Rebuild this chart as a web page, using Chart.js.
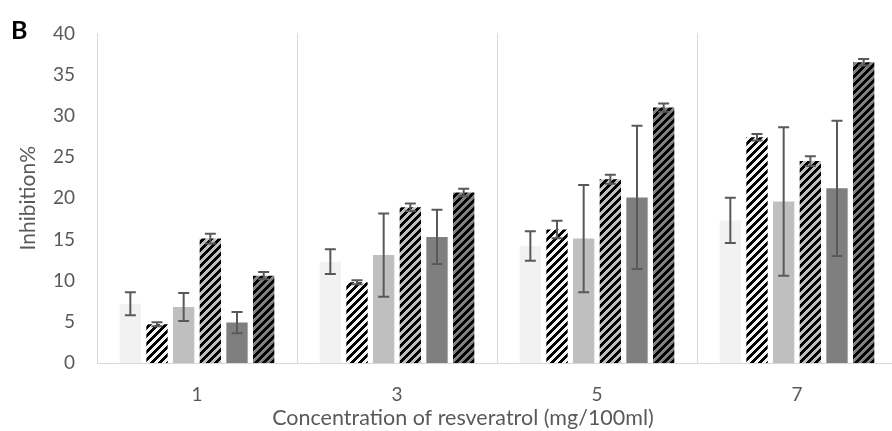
<!DOCTYPE html>
<html>
<head>
<meta charset="utf-8">
<script src="https://cdn.jsdelivr.net/npm/chart.js@4/dist/chart.umd.min.js"></script>
<style>
  html, body { margin: 0; padding: 0; background: #ffffff; overflow: hidden; }
  #wrap { width: 900px; height: 431px; }
</style>
</head>
<body>
<div id="wrap"><canvas id="c" width="900" height="431"></canvas></div>
<script>
// ---- data ----
const categories = ['1', '3', '5', '7'];
const yTicks = [0, 5, 10, 15, 20, 25, 30, 35, 40];
const s1 = [7.2, 12.3, 14.2, 17.3];
const s2 = [4.7, 9.8, 16.2, 27.4];
const s3 = [6.8, 13.1, 15.1, 19.6];
const s4 = [15.1, 18.9, 22.3, 24.5];
const s5 = [4.9, 15.3, 20.1, 21.2];
const s6 = [10.6, 20.7, 31.0, 36.5];
const e1 = [1.4, 1.5, 1.8, 2.75];
const e2 = [0.25, 0.25, 1.05, 0.4];
const e3 = [1.7, 5.05, 6.5, 9.0];
const e4 = [0.6, 0.45, 0.55, 0.6];
const e5 = [1.3, 3.3, 8.7, 8.2];
const e6 = [0.45, 0.45, 0.5, 0.4];
const xTitle = 'Concentration of resveratrol (mg/100ml)';
const yTitle = 'Inhibition%';
const panelLabel = 'B';

// ---- styles ----
const FONT = 'Lato, "Open Sans", "DejaVu Sans", sans-serif';
const TXT = '#595959';
function hatch(bg) {
  const c = document.createElement('canvas');
  c.width = 8; c.height = 8;
  const g = c.getContext('2d');
  g.fillStyle = bg; g.fillRect(0, 0, 8, 8);
  g.fillStyle = '#000000';
  for (let y = 0; y < 8; y++) for (let x = 0; x < 8; x++) {
    if ((x + y) % 8 < 4) g.fillRect(x, y, 1, 1);
  }
  return g.createPattern(c, 'repeat');
}
const fills = ['#f2f2f2', hatch('#f2f2f2'), '#bfbfbf', hatch('#bfbfbf'), '#7f7f7f', hatch('#7f7f7f')];
const values = [s1, s2, s3, s4, s5, s6];
const errors = [e1, e2, e3, e4, e5, e6];

const datasets = values.map((v, i) => ({
  label: 'Series ' + (i + 1),
  data: v,
  errors: errors[i],
  backgroundColor: fills[i],
  borderWidth: 0,
  barPercentage: 0.8,
  categoryPercentage: 0.8
}));

const errorBars = {
  id: 'errorBars',
  afterDatasetsDraw(chart) {
    const ctx = chart.ctx;
    const ys = chart.scales.y;
    ctx.save();
    ctx.strokeStyle = '#595959';
    ctx.lineWidth = 2;
    chart.data.datasets.forEach((ds, i) => {
      const meta = chart.getDatasetMeta(i);
      meta.data.forEach((bar, j) => {
        const v = ds.data[j], e = ds.errors[j];
        const yt = ys.getPixelForValue(v + e);
        const yb = ys.getPixelForValue(v - e);
        const x = bar.x, hw = 5.5;
        ctx.beginPath();
        ctx.moveTo(x, yt); ctx.lineTo(x, yb);
        ctx.moveTo(x - hw, yt); ctx.lineTo(x + hw, yt);
        ctx.moveTo(x - hw, yb); ctx.lineTo(x + hw, yb);
        ctx.stroke();
      });
    });
    ctx.restore();
  }
};

const extraText = {
  id: 'extraText',
  afterDraw(chart) {
    const ctx = chart.ctx;
    const a = chart.chartArea;
    ctx.save();
    ctx.fillStyle = '#000000';
    ctx.font = 'bold 25px ' + FONT;
    ctx.textAlign = 'left';
    ctx.textBaseline = 'middle';
    ctx.fillText(panelLabel, 11, 31);
    ctx.fillStyle = TXT;
    ctx.font = '21.5px ' + FONT;
    ctx.textAlign = 'center';
    ctx.fillText(xTitle, 463, a.bottom + 55);
    ctx.restore();
  }
};

new Chart(document.getElementById('c'), {
  type: 'bar',
  data: { labels: categories, datasets },
  options: {
    responsive: false,
    animation: false,
    layout: { padding: { top: 22, right: 3, bottom: 0, left: 0 } },
    plugins: { legend: { display: false }, tooltip: { enabled: false } },
    scales: {
      x: {
        grid: { display: true, offset: true, color: '#d9d9d9', lineWidth: 1, drawTicks: false },
        border: { display: true, color: '#d9d9d9', width: 1 },
        ticks: { color: TXT, font: { family: FONT, size: 19 }, padding: 20 },
        afterFit(s) { s.height = 68; }
      },
      y: {
        min: 0, max: 40,
        afterBuildTicks(s) { s.ticks = yTicks.map(v => ({ value: v })); },
        grid: { display: false, drawTicks: false },
        border: { display: true, color: '#d9d9d9', width: 1 },
        ticks: { color: TXT, font: { family: FONT, size: 19 }, padding: 22 },
        title: { display: true, text: yTitle, color: TXT, font: { family: FONT, size: 21 }, padding: { top: 16, bottom: 0 } },
        afterFit(s) { s.width = 97; }
      }
    }
  },
  plugins: [errorBars, extraText]
});
</script>
</body>
</html>
